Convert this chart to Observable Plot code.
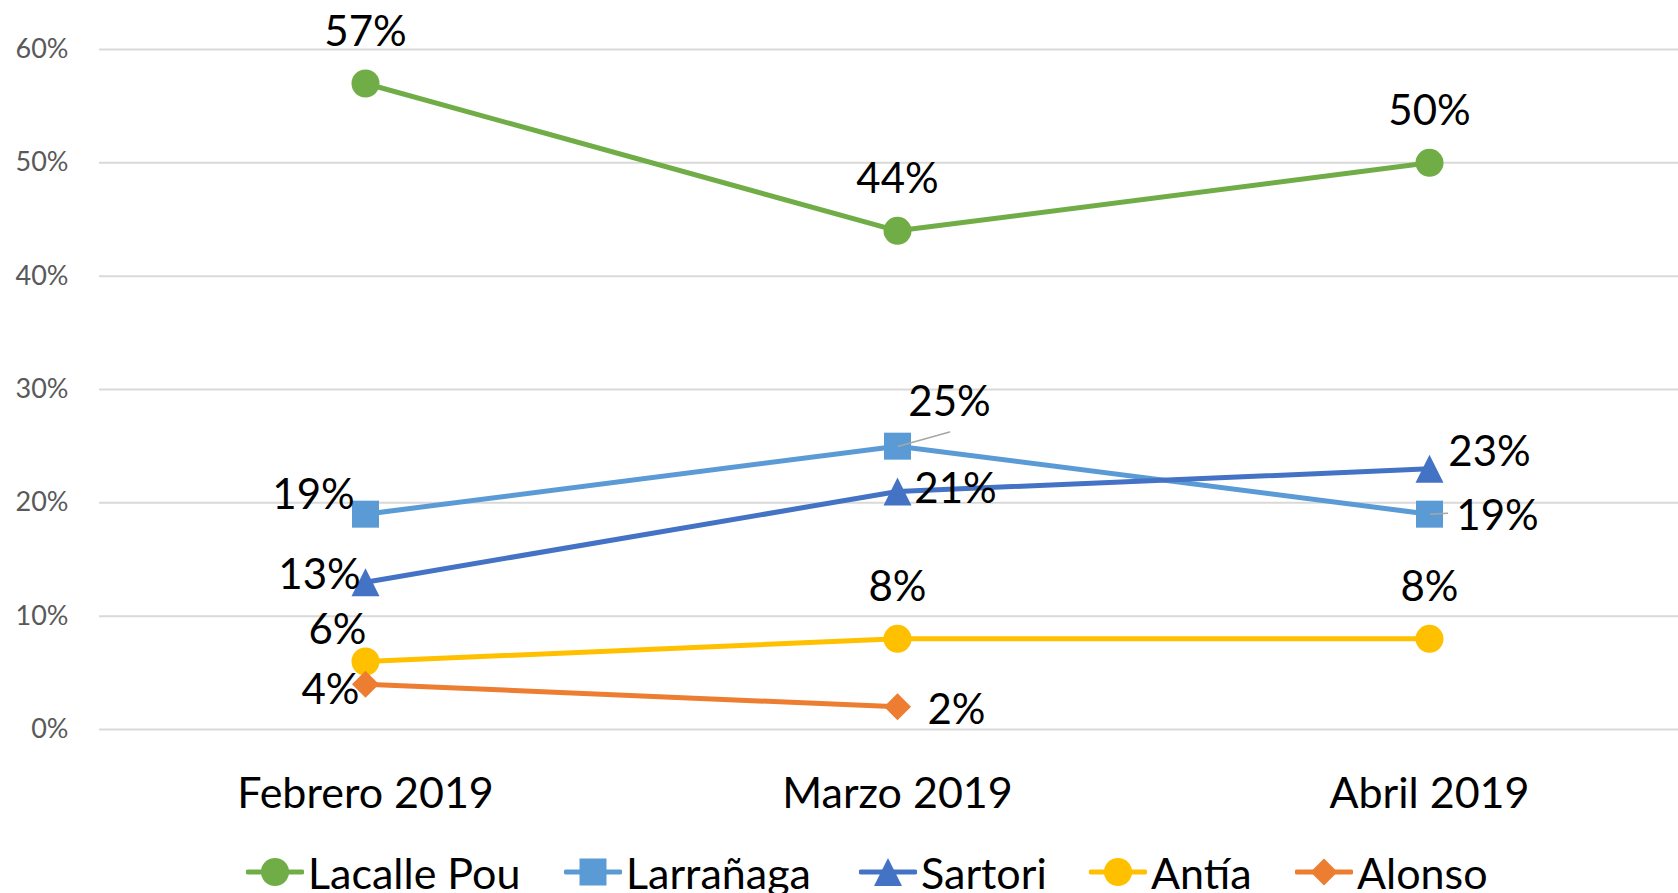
<!DOCTYPE html>
<html><head><meta charset="utf-8">
<script src="https://cdn.jsdelivr.net/npm/d3@7"></script>
<script src="https://cdn.jsdelivr.net/npm/@observablehq/plot@0.6"></script>
<style>
html,body{margin:0;padding:0;background:#fff;overflow:hidden;}
body{width:1678px;height:893px;font-family:Lato,sans-serif;}
#chart svg{display:block;}
#legend{position:relative;height:54px;}
.item{position:absolute;top:0;height:54px;display:flex;align-items:center;gap:4px;font-size:43px;line-height:43px;color:#000;white-space:nowrap;}
.item svg{display:block;}
</style></head><body>
<div id="chart"></div><div id="legend"></div>
<script>
// ---- data ----
const categories = ["Febrero 2019", "Marzo 2019", "Abril 2019"];
const seriesNames = ["Lacalle Pou", "Larrañaga", "Sartori", "Antía", "Alonso"];
const lacallePou = [0.57, 0.44, 0.50];
const larranaga  = [0.19, 0.25, 0.19];
const sartori    = [0.13, 0.21, 0.23];
const antia      = [0.06, 0.08, 0.08];
const alonso     = [0.04, 0.02, null];
const yTicks = [0, 0.1, 0.2, 0.3, 0.4, 0.5, 0.6];

const seriesValues = [lacallePou, larranaga, sartori, antia, alonso];
const rows = [];
seriesNames.forEach((s, i) => categories.forEach((c, j) => {
  if (seriesValues[i][j] != null) rows.push({series: s, category: c, value: seriesValues[i][j], idx: j});
}));

// ---- styling ----
const colors = {"Lacalle Pou": "#70AD47", "Larrañaga": "#5B9BD5", "Sartori": "#4472C4", "Antía": "#FFC000", "Alonso": "#ED7D31"};
const rad = s => Math.sqrt(s / Math.PI);
const symCircle = {draw(ctx, s) { const r = rad(s); ctx.moveTo(r, 0); ctx.arc(0, 0, r, 0, 2 * Math.PI); ctx.closePath(); }};
const symSquare = {draw(ctx, s) { const r = rad(s); ctx.rect(-r, -r, 2 * r, 2 * r); }};
const symTriangle = {draw(ctx, s) { const r = rad(s); ctx.moveTo(0, -r); ctx.lineTo(r, r); ctx.lineTo(-r, r); ctx.closePath(); }};
const symDiamond = {draw(ctx, s) { const r = rad(s); ctx.moveTo(0, -r); ctx.lineTo(r, 0); ctx.lineTo(0, r); ctx.lineTo(-r, 0); ctx.closePath(); }};
const symbols = {"Lacalle Pou": [symCircle, 14], "Larrañaga": [symSquare, 13.5], "Sartori": [symTriangle, 14], "Antía": [symCircle, 14], "Alonso": [symDiamond, 13.5]};
// label offsets (dx, dy) in pixels from each point
const labelOffsets = {
  "Lacalle Pou": [[0, -53], [0, -53], [0, -53]],
  "Larrañaga": [[-52, -21], [52, -46], [68, 0]],
  "Sartori": [[-46, -9], [58, -4], [60, -18]],
  "Antía": [[-28, -33], [0, -53], [0, -53]],
  "Alonso": [[-35, 4], [59, 2], null]
};
const legendLeft = [246, 564, 859, 1089, 1295];
const fmt = d3.format(".0%");

const marks = [
  Plot.gridY(yTicks, {stroke: "#d9d9d9", strokeOpacity: 1, strokeWidth: 2}),
  Plot.axisY(yTicks, {tickFormat: fmt, tickSize: 0, tickPadding: 31, fontSize: 27, fill: "#595959", label: null}),
  Plot.text(categories, {x: d => d, frameAnchor: "bottom", dy: 78, lineAnchor: "bottom", fontSize: 43, fill: "#000"})
];

for (const s of seriesNames) {
  const data = rows.filter(d => d.series === s);
  marks.push(Plot.line(data, {x: "category", y: "value", stroke: colors[s], strokeWidth: 5, strokeLinejoin: "round", strokeLinecap: "round"}));
  marks.push(Plot.dot(data, {x: "category", y: "value", symbol: symbols[s][0], r: symbols[s][1], fill: colors[s], stroke: "none"}));
}

// leader lines
try {
  const lineShape = {draw(ctx, l) { ctx.moveTo(0, 0); ctx.lineTo(0, -l); }};
  const l25 = rows.filter(d => d.series === "Larrañaga" && d.idx === 1);
  const l19 = rows.filter(d => d.series === "Larrañaga" && d.idx === 2);
  marks.push(Plot.vector(l25, {x: "category", y: "value", length: 53, rotate: 74.6, anchor: "start", dx: 1, shape: lineShape, stroke: "#a6a6a6", strokeWidth: 1.5}));
  marks.push(Plot.vector(l19, {x: "category", y: "value", length: 17, rotate: 87, anchor: "start", dx: 1, shape: lineShape, stroke: "#a6a6a6", strokeWidth: 1.5}));
} catch (e) {}

for (const d of rows) {
  const o = labelOffsets[d.series][d.idx];
  if (!o) continue;
  marks.push(Plot.text([d], {x: "category", y: "value", text: r => fmt(r.value), dx: o[0], dy: o[1] + 2, fontSize: 42, fill: "#000", textAnchor: "middle", lineAnchor: "middle"}));
}

const chart = Plot.plot({
  width: 1678, height: 845,
  marginLeft: 99, marginRight: 0, marginTop: 49, marginBottom: 116,
  x: {type: "point", domain: categories, range: [365, 1429], padding: 0, axis: null},
  y: {domain: [0, 0.6], axis: null},
  style: {fontFamily: "Lato, sans-serif", background: "white", overflow: "visible"},
  marks
});
document.getElementById("chart").appendChild(chart);

// legend
const legend = document.getElementById("legend");
const pathFor = (s) => {
  const [sym, r] = symbols[s];
  const p = d3.path();
  sym.draw(p, Math.PI * r * r);
  return p.toString();
};
seriesNames.forEach((s, i) => {
  const item = document.createElement("div");
  item.className = "item";
  item.style.left = legendLeft[i] + "px";
  item.innerHTML = `<svg width="58" height="30" viewBox="-29 -15 58 30"><line x1="-27" x2="27" y1="0" y2="0" stroke="${colors[s]}" stroke-width="5" stroke-linecap="round"/><path d="${pathFor(s)}" fill="${colors[s]}"/></svg><span>${s}</span>`;
  legend.appendChild(item);
});
</script>
</body></html>
